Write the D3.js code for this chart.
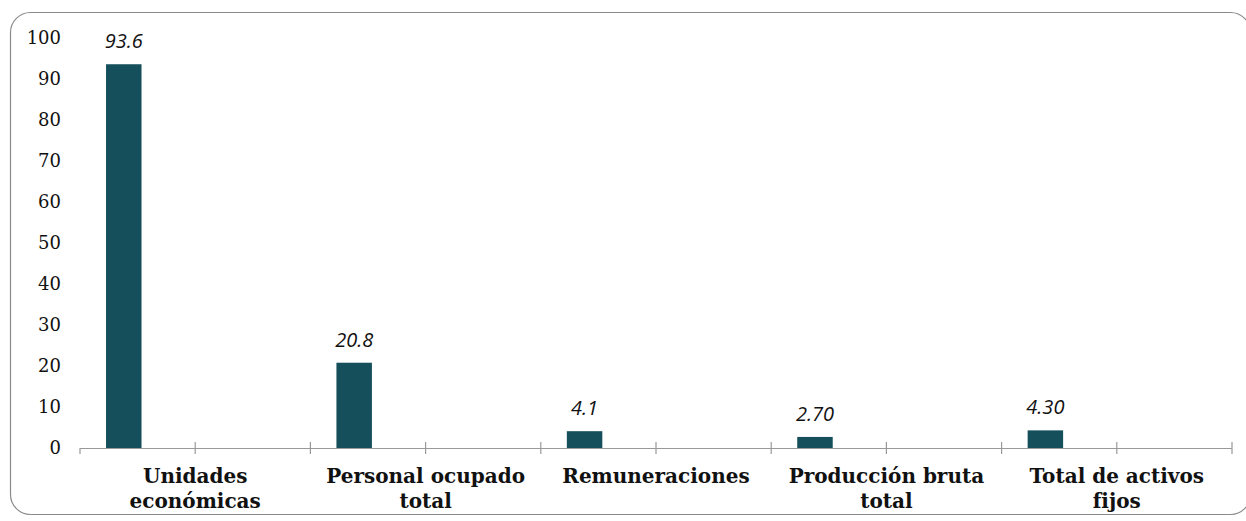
<!DOCTYPE html>
<html lang="es">
<head>
<meta charset="UTF-8">
<title>Chart</title>
<script src="https://cdn.jsdelivr.net/npm/d3@7/dist/d3.min.js"></script>
<style>
  body { margin: 0; background: #fff; }
</style>
</head>
<body>
<svg width="1246" height="521"></svg>
<script>
// data
var categories = [["Unidades", "económicas"], ["Personal ocupado", "total"], ["Remuneraciones"], ["Producción bruta", "total"], ["Total de activos", "fijos"]];
var values = [93.6, 20.8, 4.1, 2.70, 4.30];
var valueLabels = ["93.6", "20.8", "4.1", "2.70", "4.30"];
var yTicks = [0, 10, 20, 30, 40, 50, 60, 70, 80, 90, 100];

var svg = d3.select("svg");
var barColor = "#164f5c";

// frame
svg.append("rect")
    .attr("x", 10.5).attr("y", 12.5)
    .attr("width", 1240).attr("height", 502)
    .attr("rx", 20).attr("ry", 20)
    .attr("fill", "none")
    .attr("stroke", "#8a8a8a")
    .attr("stroke-width", 1.2);

var plotL = 80, plotR = 1232, plotT = 38, plotB = 448;

var x = d3.scaleBand()
    .domain(d3.range(categories.length))
    .range([plotL, plotR]);
var y = d3.scaleLinear()
    .domain([0, 100])
    .range([plotB, plotT]);

var bw = x.bandwidth();

// y labels (no axis line)
svg.append("g").selectAll("text")
    .data(yTicks)
    .enter().append("text")
    .attr("x", 61)
    .attr("y", function(d){ return y(d); })
    .attr("dy", "0.35em")
    .attr("text-anchor", "end")
    .attr("font-family", "DejaVu Serif")
    .attr("font-size", 18)
    .attr("fill", "#111")
    .text(function(d){ return d; });

// x axis line + ticks at every half group
var axis = svg.append("g");
axis.append("line")
    .attr("x1", plotL).attr("x2", plotR)
    .attr("y1", plotB + 0.5).attr("y2", plotB + 0.5)
    .attr("stroke", "#999").attr("stroke-width", 1.2);
var tickPos = d3.range(categories.length * 2 + 1).map(function(i){ return plotL + i * bw / 2; });
axis.selectAll(".tk")
    .data(tickPos)
    .enter().append("line")
    .attr("x1", function(d){ return d; })
    .attr("x2", function(d){ return d; })
    .attr("y1", function(d, i){ return i === 0 ? plotB : plotB - 6; })
    .attr("y2", plotB + 6)
    .attr("stroke", "#999").attr("stroke-width", 1.2);

// bars
var barOff = bw * 0.113, barW = bw * 0.154;
svg.append("g").selectAll("rect")
    .data(values)
    .enter().append("rect")
    .attr("x", function(d, i){ return x(i) + barOff; })
    .attr("y", function(d){ return y(d); })
    .attr("width", barW)
    .attr("height", function(d){ return plotB - y(d); })
    .attr("fill", barColor);

// value labels
svg.append("g").selectAll("text")
    .data(values)
    .enter().append("text")
    .attr("x", function(d, i){ return x(i) + barOff + barW / 2; })
    .attr("y", function(d){ return y(d) - 16; })
    .attr("text-anchor", "middle")
    .attr("font-family", "Open Sans, Liberation Sans, sans-serif")
    .attr("font-style", "italic")
    .attr("font-size", 20)
    .attr("fill", "#111")
    .text(function(d, i){ return valueLabels[i]; });

// category labels
var cat = svg.append("g").selectAll("text")
    .data(categories)
    .enter().append("text")
    .attr("x", function(d, i){ return x(i) + bw / 2; })
    .attr("y", 483)
    .attr("text-anchor", "middle")
    .attr("font-family", "DejaVu Serif")
    .attr("font-weight", "bold")
    .attr("font-size", 20)
    .attr("fill", "#111");
cat.selectAll("tspan")
    .data(function(d){ return d; })
    .enter().append("tspan")
    .attr("x", function(){ return d3.select(this.parentNode).attr("x"); })
    .attr("dy", function(d, i){ return i === 0 ? 0 : 25; })
    .text(function(d){ return d; });
</script>
</body>
</html>
